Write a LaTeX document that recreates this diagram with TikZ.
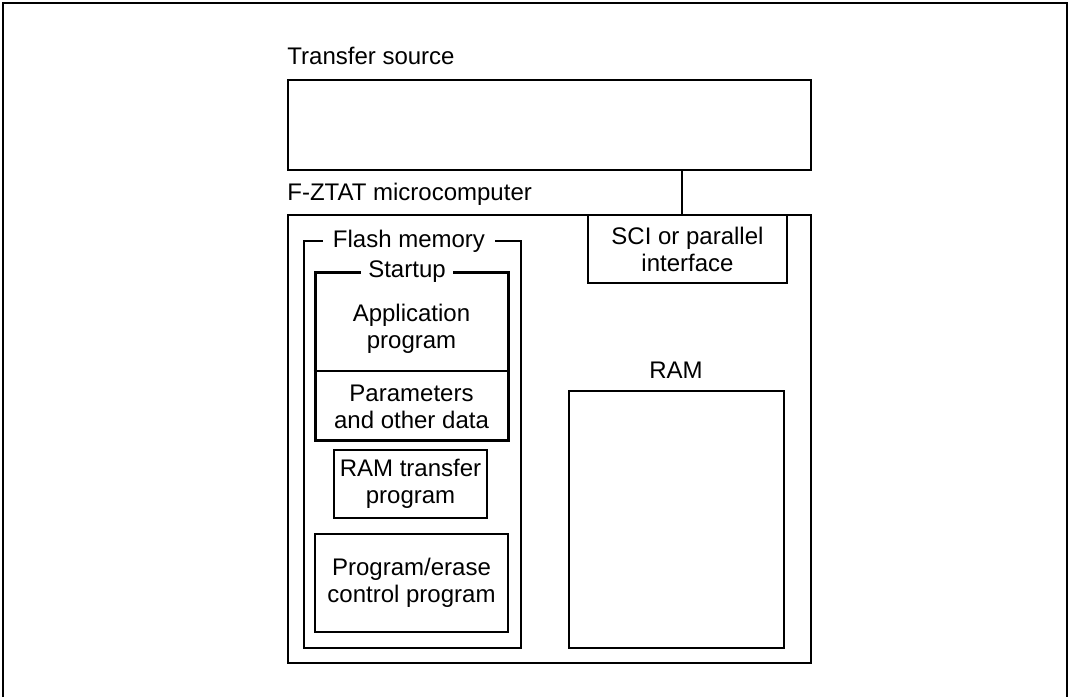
\documentclass[tikz,border=0pt]{standalone}
\usepackage{fontspec}
\setmainfont{Liberation Sans}
\usetikzlibrary{positioning}
\begin{document}
\begin{tikzpicture}[
        x=0.5pt, y=-0.5pt,
        box/.style={draw, rectangle, inner sep=0pt, line width=0.6pt},
        boxtitle/.style={fill=white, inner xsep=4pt, inner ysep=0pt}]

        \tikzstyle{every node}=[font=\fontsize{12}{13.5}\selectfont, align=center]

        \useasboundingbox (0,0) rectangle (1071,697);
        % frame, open at the bottom
        \draw[line width=1pt] (3,697) -- (3,3) -- (1067,3) -- (1067,697);

        % transfer source
        \node[box, minimum width=261.5pt, minimum height=45pt] (src) at (549.5,125) {};
        \node[anchor=base west, inner sep=0pt] (srclabel) at (287,64) {Transfer source};

        % microcomputer
        \node[box, minimum width=261.5pt, minimum height=224pt] (mcu) at (549.5,439) {};
        \node[anchor=base west, inner sep=0pt] (mculabel) at (287,200) {F-ZTAT microcomputer};
        \node[box, minimum width=99.5pt, minimum height=34pt] (sci) at (687.5,249) {SCI or parallel\\interface};
        \coordinate (link) at (682,0);
        \draw[line width=0.6pt] (src.south -| link) -- (sci.north -| link);

        % flash memory
        \node[box, minimum width=108.5pt, minimum height=203.5pt] (flash) at (412.5,444.5) {};
        \node[boxtitle, inner xsep=5pt] (flashlabel) at (409,241) {Flash memory};
        \node[box, line width=1.5pt, minimum width=96.5pt, minimum height=84pt] (startup) at (411.5,356) {};
        \node[boxtitle, inner xsep=3.5pt] (startuplabel) at (407,272) {Startup};
        \draw[line width=0.6pt] (startup.west |- 0,371) coordinate (divl) -- (startup.east |- divl);
        \node (app) at (411.5,329) {Application\\program};
        \node (param) at (411.5,407) {Parameters\\and other data};
        \node[box, minimum width=76.5pt, minimum height=34pt] (ramtp) at (410.5,484) {RAM transfer\\program};
        \node[box, minimum width=96.5pt, minimum height=49pt] (pec) at (411.5,583) {Program/erase\\control program};

        % RAM
        \node[box, minimum width=107.5pt, minimum height=128.5pt] (ram) at (676.5,519.5) {};
        \node (ramlabel) at (676,370) {RAM};
    \end{tikzpicture}
\end{document}
